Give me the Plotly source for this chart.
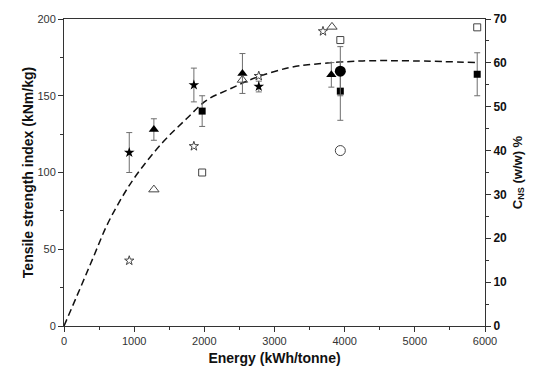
import plotly.graph_objects as go

# ---- data ----
# Tensile strength index (left axis, kNm/kg), filled markers with error bars
star_f_x = [930, 1851, 2776]
star_f_y = [113, 157, 156]
star_f_e = [13, 11, 3.5]

tri_f_x = [1281, 2543, 3810]
tri_f_y = [128, 164.5, 163.6]
tri_f_e = [7, 13, 8]

sq_f_x = [1969, 3938, 5889]
sq_f_y = [140, 153, 164]
sq_f_e = [10, 19, 14]

circ_f_x = [3938]
circ_f_y = [166]
circ_f_e = [16]

# C_NS (right axis, % w/w), open markers
star_o_x = [930, 1851, 2776, 3691]
star_o_y = [14.9, 41.0, 57.0, 67.2]

tri_o_x = [1281, 2543, 3819]
tri_o_y = [31.1, 56.1, 68.2]

sq_o_x = [1969, 3938, 5889]
sq_o_y = [35.0, 65.2, 68.1]

circ_o_x = [3938]
circ_o_y = [40.0]

# dashed fit curve (left axis)
fit_x = [0, 228, 417, 607, 821, 1034, 1414, 1746, 2031, 2363, 2743, 3217, 3549, 4260, 4972, 5900]
fit_y = [0, 24.3, 44.7, 65.2, 83.4, 98.5, 120, 135, 147, 154.4, 162, 168.4, 170.5, 172.7, 172.7, 171.6]

x_ticks = [0, 1000, 2000, 3000, 4000, 5000, 6000]
y_ticks = [0, 50, 100, 150, 200]
y2_ticks = [0, 10, 20, 30, 40, 50, 60, 70]

FONT = "Liberation Sans, Arial, sans-serif"
ERR = dict(type="data", visible=True, color="#6e6e6e", thickness=1, width=3)

fig = go.Figure()

fig.add_trace(go.Scatter(x=fit_x, y=fit_y, mode="lines", line_shape="spline",
                         line=dict(color="#111", width=1.5, dash="7px,4px"),
                         showlegend=False, hoverinfo="skip"))

def filled(x, y, e, symbol, size):
    fig.add_trace(go.Scatter(x=x, y=y, mode="markers",
                             error_y=dict(array=e, **ERR),
                             marker=dict(symbol=symbol, size=size, color="#000",
                                         line=dict(width=0)),
                             showlegend=False))

def opened(x, y, symbol, size):
    fig.add_trace(go.Scatter(x=x, y=y, mode="markers", yaxis="y2",
                             marker=dict(symbol=symbol, size=size, color="#444",
                                         line=dict(width=1, color="#444")),
                             showlegend=False))

filled(star_f_x, star_f_y, star_f_e, "star", 8)
filled(tri_f_x, tri_f_y, tri_f_e, "triangle-up", 9)
filled(sq_f_x, sq_f_y, sq_f_e, "square", 7)
filled(circ_f_x, circ_f_y, circ_f_e, "circle", 11)

opened(star_o_x, star_o_y, "star-open", 7)
opened(tri_o_x, tri_o_y, "triangle-up-open", 9)
opened(sq_o_x, sq_o_y, "square-open", 7)
opened(circ_o_x, circ_o_y, "circle-open", 10)

axcol = "#333"
fig.update_layout(
    width=535, height=376,
    margin=dict(l=64, r=50, t=16, b=50),
    paper_bgcolor="white", plot_bgcolor="white",
    font=dict(family=FONT, color="#222"),
    xaxis=dict(range=[0, 6000], tickvals=x_ticks, showgrid=False, zeroline=False,
               showline=True, linecolor=axcol, linewidth=1, mirror=True,
               ticks="outside", ticklen=5, tickcolor=axcol,
               minor=dict(dtick=500, ticks="outside", ticklen=3, tickcolor=axcol),
               tickfont=dict(size=11, color="#333"),
               title=dict(text="<b>Energy (kWh/tonne)</b>", font=dict(size=14, color="#111"),
                          standoff=6)),
    yaxis=dict(range=[0, 200], tickvals=y_ticks, showgrid=False, zeroline=False,
               showline=True, linecolor=axcol, linewidth=1, mirror=True,
               ticks="outside", ticklen=5, tickcolor=axcol,
               minor=dict(dtick=25, ticks="outside", ticklen=3, tickcolor=axcol),
               tickfont=dict(size=11, color="#333"),
               title=dict(text="<b>Tensile strength index (kNm/kg)</b>",
                          font=dict(size=14, color="#111"), standoff=0)),
    yaxis2=dict(range=[0, 70], tickvals=y2_ticks, overlaying="y", side="right",
                showgrid=False, zeroline=False,
                showline=True, linecolor=axcol, linewidth=1,
                ticks="outside", ticklen=5, tickcolor=axcol,
                minor=dict(dtick=5, ticks="outside", ticklen=3, tickcolor=axcol),
                tickfont=dict(size=12, color="#111", weight="bold"),
                title=dict(text="<b>C<sub>NS</sub> (w/w) %</b>",
                           font=dict(size=13, color="#111"), standoff=6)),
)

fig.write_html("out.html")
